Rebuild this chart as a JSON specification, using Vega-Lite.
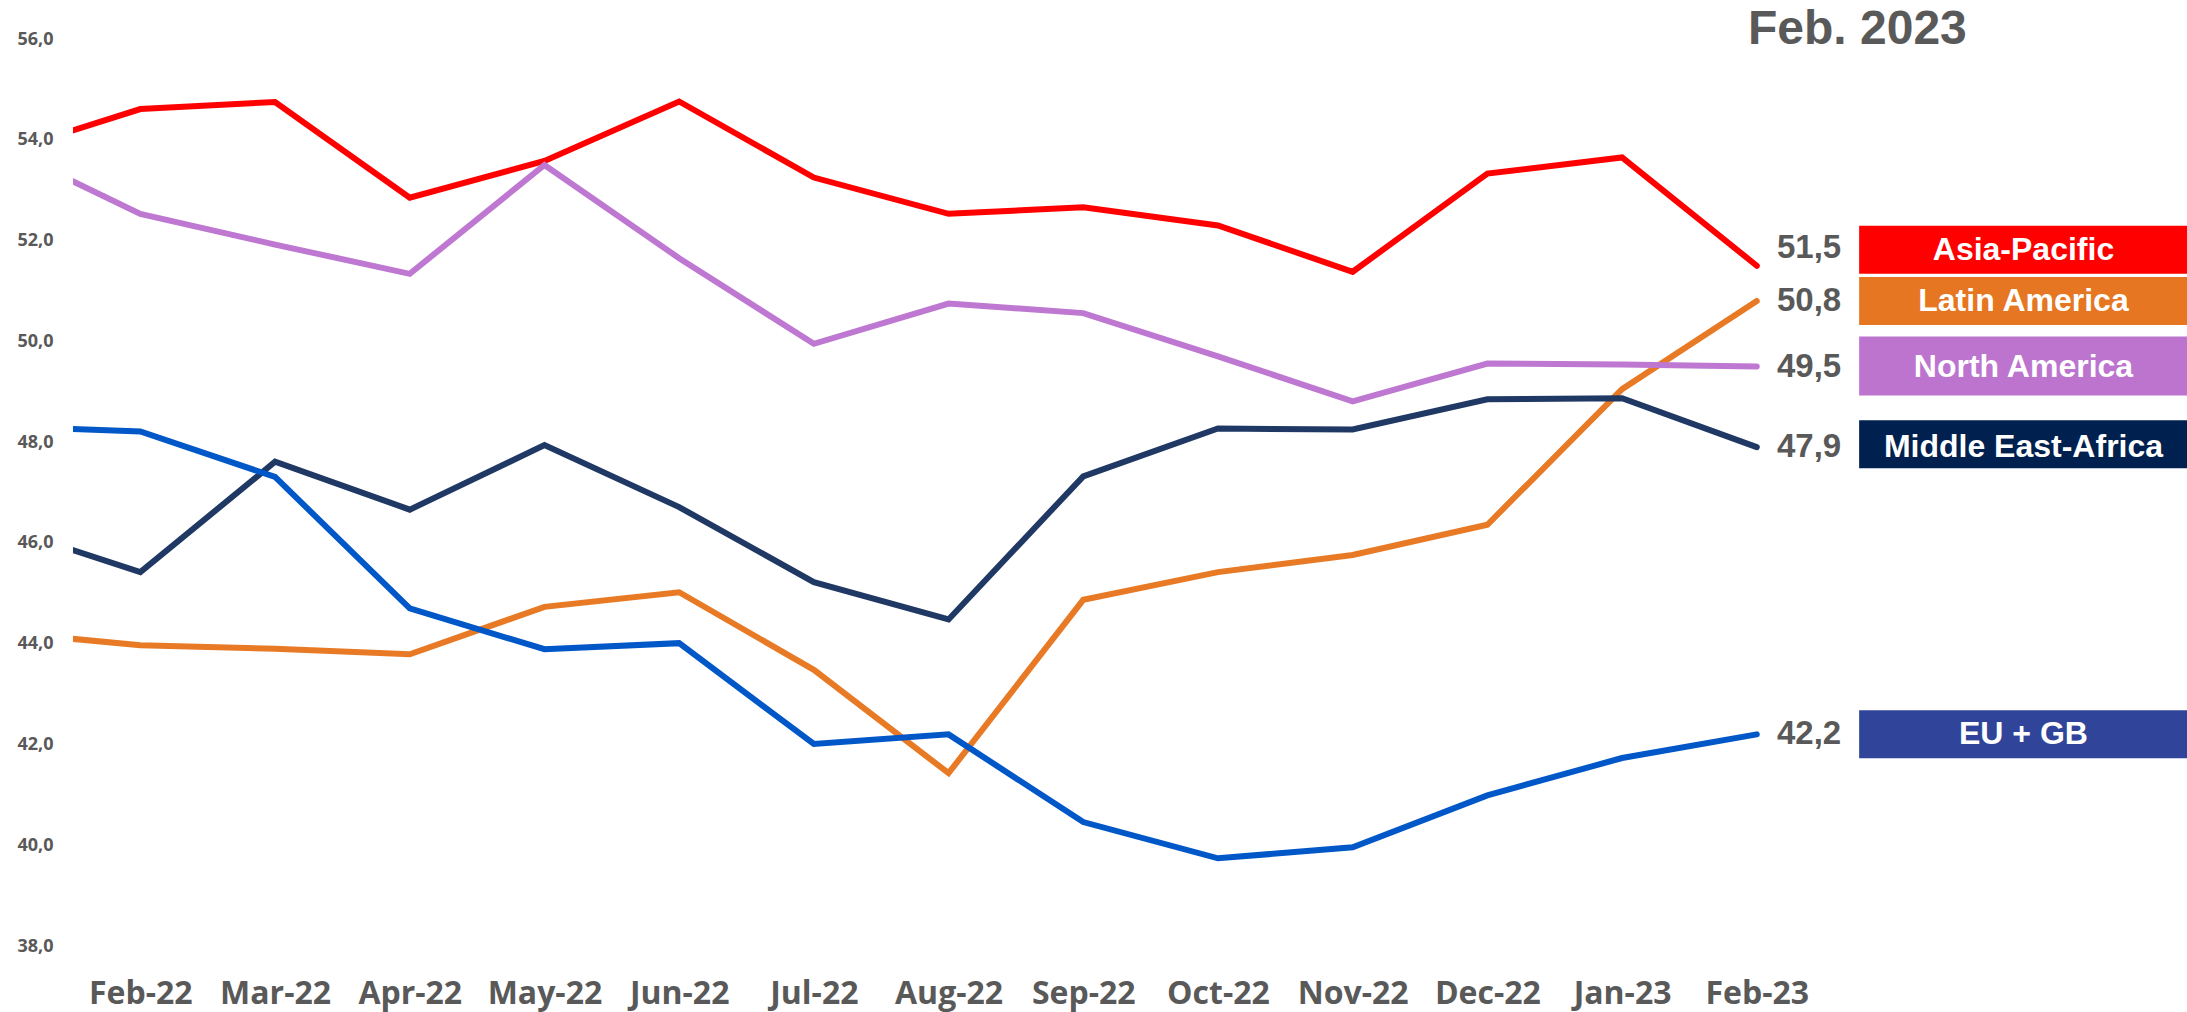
{
  "$schema": "https://vega.github.io/schema/vega-lite/v6.json",
  "autosize": {"type": "none"},
  "padding": {"left": 73, "top": 39, "right": 0, "bottom": 66},
  "width": 2114,
  "height": 907,
  "background": "white",
  "title": {
    "text": "Feb. 2023",
    "anchor": "start",
    "frame": "group",
    "orient": "top",
    "offset": 0,
    "baseline": "bottom",
    "dx": 1675,
    "dy": 72,
    "font": "Liberation Sans",
    "fontSize": 48,
    "fontWeight": "bold",
    "color": "#595959"
  },
  "config": {
    "view": {"stroke": null},
    "locale": {
      "number": {"decimal": ",", "thousands": ".", "grouping": [3], "currency": ["", " €"]}
    }
  },
  "data": {
    "values": [
      {"s": "Asia-Pacific", "m": 0, "v": 53.76},
      {"s": "Asia-Pacific", "m": 1, "v": 54.61},
      {"s": "Asia-Pacific", "m": 2, "v": 54.75},
      {"s": "Asia-Pacific", "m": 3, "v": 52.85},
      {"s": "Asia-Pacific", "m": 4, "v": 53.58},
      {"s": "Asia-Pacific", "m": 5, "v": 54.76},
      {"s": "Asia-Pacific", "m": 6, "v": 53.25},
      {"s": "Asia-Pacific", "m": 7, "v": 52.53},
      {"s": "Asia-Pacific", "m": 8, "v": 52.66},
      {"s": "Asia-Pacific", "m": 9, "v": 52.3},
      {"s": "Asia-Pacific", "m": 10, "v": 51.38},
      {"s": "Asia-Pacific", "m": 11, "v": 53.33},
      {"s": "Asia-Pacific", "m": 12, "v": 53.65},
      {"s": "Asia-Pacific", "m": 13, "v": 51.5},
      {"s": "Latin America", "m": 0, "v": 44.22},
      {"s": "Latin America", "m": 1, "v": 43.97},
      {"s": "Latin America", "m": 2, "v": 43.9},
      {"s": "Latin America", "m": 3, "v": 43.79},
      {"s": "Latin America", "m": 4, "v": 44.73},
      {"s": "Latin America", "m": 5, "v": 45.02},
      {"s": "Latin America", "m": 6, "v": 43.48},
      {"s": "Latin America", "m": 7, "v": 41.43},
      {"s": "Latin America", "m": 8, "v": 44.87},
      {"s": "Latin America", "m": 9, "v": 45.42},
      {"s": "Latin America", "m": 10, "v": 45.76},
      {"s": "Latin America", "m": 11, "v": 46.36},
      {"s": "Latin America", "m": 12, "v": 49.05},
      {"s": "Latin America", "m": 13, "v": 50.8},
      {"s": "North America", "m": 0, "v": 53.82},
      {"s": "North America", "m": 1, "v": 52.53},
      {"s": "North America", "m": 2, "v": 51.92},
      {"s": "North America", "m": 3, "v": 51.34},
      {"s": "North America", "m": 4, "v": 53.5},
      {"s": "North America", "m": 5, "v": 51.65},
      {"s": "North America", "m": 6, "v": 49.95},
      {"s": "North America", "m": 7, "v": 50.75},
      {"s": "North America", "m": 8, "v": 50.56},
      {"s": "North America", "m": 9, "v": 49.7},
      {"s": "North America", "m": 10, "v": 48.81},
      {"s": "North America", "m": 11, "v": 49.56},
      {"s": "North America", "m": 12, "v": 49.54},
      {"s": "North America", "m": 13, "v": 49.5},
      {"s": "Middle East-Africa", "m": 0, "v": 46.29},
      {"s": "Middle East-Africa", "m": 1, "v": 45.42},
      {"s": "Middle East-Africa", "m": 2, "v": 47.61},
      {"s": "Middle East-Africa", "m": 3, "v": 46.66},
      {"s": "Middle East-Africa", "m": 4, "v": 47.94},
      {"s": "Middle East-Africa", "m": 5, "v": 46.71},
      {"s": "Middle East-Africa", "m": 6, "v": 45.22},
      {"s": "Middle East-Africa", "m": 7, "v": 44.48},
      {"s": "Middle East-Africa", "m": 8, "v": 47.32},
      {"s": "Middle East-Africa", "m": 9, "v": 48.27},
      {"s": "Middle East-Africa", "m": 10, "v": 48.25},
      {"s": "Middle East-Africa", "m": 11, "v": 48.85},
      {"s": "Middle East-Africa", "m": 12, "v": 48.87},
      {"s": "Middle East-Africa", "m": 13, "v": 47.9},
      {"s": "EU + GB", "m": 0, "v": 48.31},
      {"s": "EU + GB", "m": 1, "v": 48.21},
      {"s": "EU + GB", "m": 2, "v": 47.31},
      {"s": "EU + GB", "m": 3, "v": 44.7},
      {"s": "EU + GB", "m": 4, "v": 43.89},
      {"s": "EU + GB", "m": 5, "v": 44.01},
      {"s": "EU + GB", "m": 6, "v": 42.01},
      {"s": "EU + GB", "m": 7, "v": 42.2},
      {"s": "EU + GB", "m": 8, "v": 40.46},
      {"s": "EU + GB", "m": 9, "v": 39.74},
      {"s": "EU + GB", "m": 10, "v": 39.96},
      {"s": "EU + GB", "m": 11, "v": 40.99},
      {"s": "EU + GB", "m": 12, "v": 41.73},
      {"s": "EU + GB", "m": 13, "v": 42.2}
    ]
  },
  "encoding": {
    "x": {
      "field": "m",
      "type": "quantitative",
      "scale": {"domain": [0.5, 16.194], "nice": false, "zero": false},
      "axis": {
        "title": null,
        "values": [1, 2, 3, 4, 5, 6, 7, 8, 9, 10, 11, 12, 13],
        "labelExpr": "['Jan-22','Feb-22','Mar-22','Apr-22','May-22','Jun-22','Jul-22','Aug-22','Sep-22','Oct-22','Nov-22','Dec-22','Jan-23','Feb-23'][datum.value]",
        "domain": false,
        "ticks": false,
        "grid": false,
        "labelFont": "Open Sans",
        "labelFontSize": 32,
        "labelFontWeight": "bold",
        "labelColor": "#595959",
        "labelPadding": 32,
        "labelOverlap": false,
        "labelFlush": false
      }
    },
    "y": {
      "field": "v",
      "type": "quantitative",
      "scale": {"domain": [38, 56], "nice": false, "zero": false},
      "axis": {
        "title": null,
        "values": [38, 40, 42, 44, 46, 48, 50, 52, 54, 56],
        "format": ".1f",
        "domain": false,
        "ticks": false,
        "grid": false,
        "labelFont": "Open Sans",
        "labelFontSize": 18,
        "labelFontWeight": "bold",
        "labelColor": "#595959",
        "labelPadding": 20
      }
    }
  },
  "layer": [
    {
      "data": {"values": [{}]},
      "mark": {"type": "rule", "color": "#D9D9D9", "strokeWidth": 2},
      "encoding": {
        "x": {"datum": 0.5},
        "x2": {"datum": 13.5},
        "y": {"datum": 38}
      }
    },
    {
      "mark": {"type": "line", "strokeWidth": 6, "strokeCap": "round", "clip": true},
      "encoding": {
        "stroke": {
          "field": "s",
          "type": "nominal",
          "legend": null,
          "scale": {
            "domain": ["Asia-Pacific", "Latin America", "North America", "Middle East-Africa", "EU + GB"],
            "range": ["#FF0000", "#E87A25", "#BE78D1", "#203864", "#0057C8"]
          }
        },
        "detail": {"field": "s"}
      }
    },
    {
      "transform": [{"filter": "datum.m == 13"}],
      "encoding": {
        "fill": {
          "field": "s",
          "type": "nominal",
          "legend": null,
          "scale": {
            "domain": ["Asia-Pacific", "Latin America", "North America", "Middle East-Africa", "EU + GB"],
            "range": ["#FF0000", "#E67621", "#BC74CF", "#00204F", "#30459A"]
          }
        }
      },
      "layer": [
        {
          "transform": [{"filter": "datum.s == 'Latin America' || datum.s == 'EU + GB'"}],
          "mark": {"type": "rect", "yOffset": -24, "y2Offset": 24},
          "encoding": {"x": {"datum": 13.76}, "x2": {"datum": 16.3}, "y2": {"field": "v"}}
        },
        {
          "transform": [{"filter": "datum.s == 'Asia-Pacific'"}],
          "mark": {"type": "rect", "yOffset": -40, "y2Offset": 8},
          "encoding": {"x": {"datum": 13.76}, "x2": {"datum": 16.3}, "y2": {"field": "v"}}
        },
        {
          "transform": [{"filter": "datum.s == 'North America'"}],
          "mark": {"type": "rect", "yOffset": -30, "y2Offset": 29},
          "encoding": {"x": {"datum": 13.76}, "x2": {"datum": 16.3}, "y2": {"field": "v"}}
        },
        {
          "transform": [{"filter": "datum.s == 'Middle East-Africa'"}],
          "mark": {"type": "rect", "yOffset": -27, "y2Offset": 21},
          "encoding": {"x": {"datum": 13.76}, "x2": {"datum": 16.3}, "y2": {"field": "v"}}
        },
        {
          "transform": [{"filter": "datum.s != 'Asia-Pacific'"}],
          "mark": {"type": "text", "align": "left", "baseline": "middle", "font": "Liberation Sans", "fontSize": 33, "fontWeight": "bold"},
          "encoding": {"x": {"datum": 13.15}, "text": {"field": "v", "format": ".1f"}, "fill": {"value": "#595959"}}
        },
        {
          "transform": [{"filter": "datum.s == 'Asia-Pacific'"}],
          "mark": {"type": "text", "align": "left", "baseline": "middle", "dy": -18, "font": "Liberation Sans", "fontSize": 33, "fontWeight": "bold"},
          "encoding": {"x": {"datum": 13.15}, "text": {"field": "v", "format": ".1f"}, "fill": {"value": "#595959"}}
        },
        {
          "transform": [{"filter": "datum.s != 'Asia-Pacific'"}],
          "mark": {"type": "text", "align": "center", "baseline": "middle", "font": "Liberation Sans", "fontSize": 32, "fontWeight": "bold"},
          "encoding": {"x": {"datum": 14.98}, "text": {"field": "s"}, "fill": {"value": "white"}}
        },
        {
          "transform": [{"filter": "datum.s == 'Asia-Pacific'"}],
          "mark": {"type": "text", "align": "center", "baseline": "middle", "dy": -16, "font": "Liberation Sans", "fontSize": 32, "fontWeight": "bold"},
          "encoding": {"x": {"datum": 14.98}, "text": {"field": "s"}, "fill": {"value": "white"}}
        }
      ]
    }
  ]
}
